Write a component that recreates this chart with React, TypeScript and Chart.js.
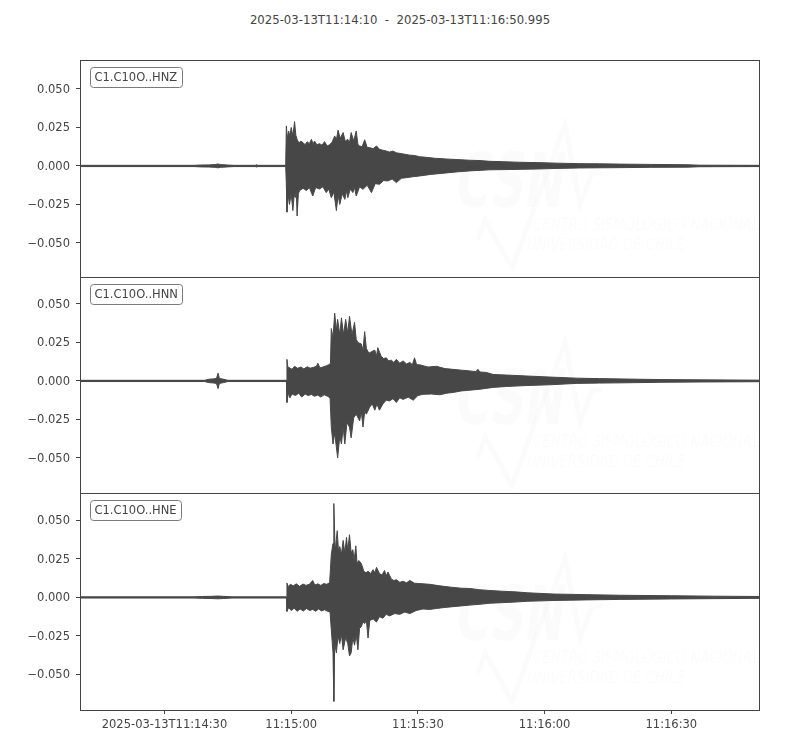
import React, { useEffect, useRef } from "react";
import { Chart, registerables } from "chart.js";

Chart.register(...registerables);

// ---------------- data ----------------
const TITLE = "2025-03-13T11:14:10  -  2025-03-13T11:16:50.995";
const CHANNELS = ["C1.C10O..HNZ", "C1.C10O..HNN", "C1.C10O..HNE"];

// seconds after 2025-03-13T11:14:10
const X_MIN = 0;
const X_MAX = 160.995;
const X_TICKS = [20, 50, 80, 110, 140];
const X_TICK_LABELS = ["2025-03-13T11:14:30", "11:15:00", "11:15:30", "11:16:00", "11:16:30"];

// y range of each panel [min, max]
const Y_RANGES: [number, number][] = [
  [-0.0721, 0.0688],
  [-0.0728, 0.0675],
  [-0.0731, 0.0678],
];
const Y_TICKS = [-0.05, -0.025, 0, 0.025, 0.05];
const Y_TICK_LABELS = ["\u22120.050", "\u22120.025", "0.000", "0.025", "0.050"];

// envelope of each trace: [time (s), amplitude]
const HNZ_UPPER: [number, number][] = [
  [0, 0.0004], [27, 0.0004], [28.5, 0.0006], [30.5, 0.0007], [32.0, 0.0009], [32.6, 0.0013], [33.3, 0.0009],
  [35, 0.0006], [36.5, 0.0004], [41.5, 0.0004], [41.8, 0.0008], [42.1, 0.0004], [48.7, 0.0004],
  [48.85, 0.026], [49.1, 0.018], [49.4, 0.0227], [49.7, 0.019], [50.0, 0.025], [50.4, 0.0195], [50.8, 0.0288],
  [51.1, 0.02], [51.4, 0.0173], [51.8, 0.015], [52.3, 0.016], [52.8, 0.0152], [53.3, 0.0138], [53.8, 0.0158],
  [54.3, 0.0145], [54.8, 0.0173], [55.2, 0.014], [55.5, 0.0162], [56.1, 0.0138], [56.7, 0.0145], [57.3, 0.0135],
  [57.9, 0.0158], [58.5, 0.013], [59.1, 0.0137], [59.7, 0.0155], [60.3, 0.0195], [60.7, 0.017], [61.1, 0.0232],
  [61.6, 0.018], [62.3, 0.0217], [62.8, 0.016], [63.4, 0.0173], [63.8, 0.015], [64.2, 0.0217], [64.8, 0.0162],
  [65.4, 0.0227], [65.8, 0.014], [66.2, 0.013], [66.8, 0.0125], [67.4, 0.017], [68.0, 0.012], [68.6, 0.0119],
  [69.4, 0.0112], [70.2, 0.013], [70.9, 0.0108], [71.7, 0.0102], [72.5, 0.0097], [73.3, 0.009], [74.1, 0.0097],
  [74.9, 0.0085], [75.7, 0.0082], [76.9, 0.0076], [78.1, 0.007], [79.2, 0.0068], [80.4, 0.006], [82, 0.0056],
  [84, 0.005], [86.8, 0.0045], [89, 0.0042], [92.3, 0.0037], [94.7, 0.0035], [97, 0.003], [100, 0.0028],
  [104, 0.0024], [108, 0.0022], [113, 0.0018], [118.3, 0.0015], [123, 0.0014], [127.8, 0.0012], [135, 0.001],
  [143.7, 0.0008], [146.8, 0.0005], [160.995, 0.0004],
];
const HNZ_LOWER: [number, number][] = [
  [0, -0.0004], [27, -0.0004], [28.5, -0.0006], [30.5, -0.0007], [32.0, -0.0009], [32.6, -0.0012], [33.3, -0.0009],
  [35, -0.0006], [36.5, -0.0004], [41.5, -0.0004], [41.8, -0.0007], [42.1, -0.0004], [48.7, -0.0004],
  [48.85, -0.012], [49.0, -0.03], [49.3, -0.019], [49.6, -0.025], [50.0, -0.018], [50.4, -0.029], [50.7, -0.019],
  [51.0, -0.0205], [51.2, -0.016], [51.4, -0.0325], [51.7, -0.018], [52.0, -0.016], [52.8, -0.0145], [53.6, -0.016],
  [54.3, -0.014], [55.1, -0.0195], [55.8, -0.014], [56.7, -0.015], [57.5, -0.0135], [58.3, -0.0173], [58.9, -0.015],
  [59.5, -0.0206], [60.1, -0.017], [60.7, -0.029], [61.1, -0.019], [61.5, -0.025], [62.1, -0.018], [62.7, -0.0217],
  [63.1, -0.016], [63.4, -0.0206], [64.0, -0.015], [64.6, -0.0173], [65.0, -0.014], [65.4, -0.0195], [66.2, -0.0135],
  [67.0, -0.0152], [68.0, -0.0125], [69.0, -0.0173], [69.9, -0.0115], [70.9, -0.0119], [71.9, -0.0095],
  [72.9, -0.0097], [73.9, -0.0085], [74.9, -0.0108], [76.1, -0.008], [77.3, -0.0076], [78.8, -0.007],
  [80.4, -0.0065], [83, -0.0055], [86.8, -0.0045], [89.5, -0.0038], [92.3, -0.0032], [97, -0.0025],
  [102, -0.0023], [108, -0.002], [113, -0.0016], [118.3, -0.0013], [127.8, -0.0011], [135, -0.0009],
  [143.7, -0.0008], [146.8, -0.0005], [160.995, -0.0004],
];

const HNN_UPPER: [number, number][] = [
  [0, 0.0004], [29.5, 0.0004], [30.5, 0.0011], [31.5, 0.0013], [32.3, 0.0016], [32.7, 0.005], [33.0, 0.0016],
  [34, 0.0011], [35, 0.0004], [48.9, 0.0004],
  [49.0, 0.014], [49.2, 0.009], [49.5, 0.0087], [50.2, 0.0075], [50.8, 0.0095], [51.5, 0.0082], [52.3, 0.009],
  [53.0, 0.0078], [53.8, 0.0092], [54.5, 0.0083], [55.3, 0.0088], [56.0, 0.0095], [56.3, 0.0115], [56.8, 0.0085],
  [57.5, 0.009], [58.2, 0.0097], [58.9, 0.0105], [59.3, 0.0115], [59.5, 0.034], [59.9, 0.028], [60.3, 0.044],
  [60.7, 0.033], [61.0, 0.04], [61.5, 0.03], [61.9, 0.041], [62.4, 0.03], [62.9, 0.04], [63.4, 0.031],
  [63.8, 0.042], [64.4, 0.03], [65.0, 0.038], [65.4, 0.027], [65.8, 0.025], [66.6, 0.024], [67.0, 0.02],
  [67.4, 0.032], [67.8, 0.021], [68.4, 0.018], [69.0, 0.019], [69.8, 0.02], [70.2, 0.016], [70.5, 0.0216],
  [71.3, 0.016], [71.9, 0.0145], [72.5, 0.015], [73.1, 0.013], [73.7, 0.0135], [74.3, 0.012], [74.9, 0.014],
  [75.7, 0.0115], [76.5, 0.013], [77.3, 0.011], [78.1, 0.012], [78.7, 0.0105], [79.2, 0.015], [79.7, 0.0105],
  [80.4, 0.0105], [82.4, 0.009], [84.4, 0.0095], [86.4, 0.008], [88.3, 0.0075], [90.3, 0.007], [92.3, 0.0065],
  [93.7, 0.006], [94.2, 0.0075], [94.7, 0.0058], [96.2, 0.0055], [97.8, 0.0042], [101, 0.0038], [105.8, 0.0032],
  [111.3, 0.0025], [117.6, 0.0018], [123, 0.0015], [129.5, 0.0012], [137.3, 0.0009], [146.8, 0.0007],
  [160.995, 0.0005],
];
const HNN_LOWER: [number, number][] = [
  [0, -0.0004], [29.5, -0.0004], [30.5, -0.0011], [31.5, -0.0013], [32.3, -0.0016], [32.7, -0.005], [33.0, -0.0016],
  [34, -0.0011], [35, -0.0004], [48.9, -0.0004],
  [49.0, -0.014], [49.3, -0.008], [49.7, -0.011], [50.2, -0.0085], [51.0, -0.0095], [51.8, -0.008], [52.5, -0.0105],
  [53.3, -0.0085], [54.0, -0.0095], [54.8, -0.0088], [55.5, -0.01], [56.3, -0.0092], [57.0, -0.0105], [57.8, -0.009],
  [58.5, -0.0098], [59.2, -0.011], [59.5, -0.03], [59.9, -0.041], [60.3, -0.034], [60.7, -0.043], [61.0, -0.05],
  [61.5, -0.036], [61.9, -0.041], [62.3, -0.03], [62.7, -0.041], [63.2, -0.027], [63.8, -0.03], [64.2, -0.037],
  [64.8, -0.024], [65.4, -0.0216], [66.2, -0.026], [66.6, -0.02], [67.0, -0.03], [67.4, -0.02], [67.8, -0.0216],
  [68.6, -0.017], [69.2, -0.015], [69.8, -0.019], [70.3, -0.015], [70.9, -0.019], [71.7, -0.015], [72.5, -0.0125],
  [73.3, -0.013], [74.1, -0.0115], [74.9, -0.014], [75.7, -0.011], [76.5, -0.012], [77.7, -0.0105], [78.9, -0.0125],
  [80.0, -0.0095], [81.2, -0.0087], [83.2, -0.0085], [85.2, -0.009], [86.8, -0.008], [88.3, -0.0075],
  [90.3, -0.0065], [92.3, -0.006], [94.7, -0.0054], [97.8, -0.0042], [101, -0.0036], [105.8, -0.003],
  [111.3, -0.0025], [117.6, -0.0016], [123, -0.0014], [129.5, -0.0012], [137.3, -0.0009], [146.8, -0.0007],
  [160.995, -0.0005],
];

const HNE_UPPER: [number, number][] = [
  [0, 0.0004], [27, 0.0004], [29, 0.0006], [31, 0.0007], [32.6, 0.0009], [34, 0.0007], [36, 0.0004], [48.9, 0.0004],
  [49.0, 0.0093], [49.3, 0.007], [49.8, 0.0085], [50.5, 0.0075], [51.2, 0.0088], [52.0, 0.0072], [52.8, 0.0087],
  [53.5, 0.0078], [54.3, 0.0085], [55.1, 0.011], [55.6, 0.008], [56.3, 0.0088], [57.0, 0.0078], [57.7, 0.009],
  [58.4, 0.0085], [59.1, 0.0095], [59.5, 0.028], [59.9, 0.035], [60.1, 0.061], [60.4, 0.03], [60.9, 0.0433],
  [61.2, 0.03], [61.5, 0.033], [61.9, 0.028], [62.3, 0.037], [62.7, 0.029], [63.1, 0.039], [63.4, 0.03],
  [63.8, 0.0407], [64.2, 0.029], [64.6, 0.031], [64.9, 0.024], [65.3, 0.0335], [65.6, 0.022], [66.0, 0.024],
  [66.6, 0.022], [67.2, 0.017], [67.7, 0.016], [68.2, 0.017], [68.8, 0.0155], [69.4, 0.018], [69.8, 0.016],
  [70.2, 0.0195], [70.9, 0.0155], [71.5, 0.0145], [72.1, 0.0175], [72.5, 0.014], [72.9, 0.0165], [73.7, 0.012],
  [74.3, 0.011], [74.9, 0.0115], [75.7, 0.0098], [76.5, 0.0105], [77.3, 0.0095], [78.1, 0.011], [79.2, 0.0092],
  [80.4, 0.009], [82.8, 0.0085], [85.2, 0.0075], [88.3, 0.0065], [90.3, 0.006], [92.3, 0.0058], [94.5, 0.005],
  [97, 0.0045], [100, 0.004], [103, 0.0036], [106, 0.003], [112, 0.0022], [120, 0.0018], [128, 0.0014],
  [140, 0.0011], [150, 0.0008], [160.995, 0.0006],
];
const HNE_LOWER: [number, number][] = [
  [0, -0.0004], [27, -0.0004], [29, -0.0006], [31, -0.0007], [32.6, -0.0009], [34, -0.0007], [36, -0.0004],
  [48.9, -0.0004],
  [49.0, -0.0091], [49.4, -0.0065], [50.0, -0.0085], [50.7, -0.007], [51.4, -0.009], [52.1, -0.0075],
  [52.9, -0.0088], [53.6, -0.0072], [54.4, -0.0085], [55.1, -0.0078], [55.8, -0.009], [56.5, -0.0075],
  [57.2, -0.0088], [57.9, -0.008], [58.6, -0.009], [59.2, -0.0095], [59.5, -0.021], [59.9, -0.036],
  [60.1, -0.0675], [60.3, -0.03], [60.7, -0.036], [61.1, -0.025], [61.5, -0.03], [61.9, -0.024], [62.3, -0.034],
  [62.9, -0.026], [63.4, -0.03], [63.8, -0.038], [64.2, -0.036], [64.6, -0.026], [65.0, -0.031], [65.4, -0.024],
  [65.8, -0.034], [66.2, -0.02], [66.6, -0.019], [67.0, -0.016], [67.4, -0.017], [67.8, -0.015], [68.2, -0.0264],
  [68.6, -0.015], [69.4, -0.014], [70.2, -0.016], [70.9, -0.0125], [71.7, -0.0135], [72.5, -0.011], [73.3, -0.012],
  [74.5, -0.0105], [75.7, -0.011], [76.9, -0.0095], [78.1, -0.0105], [79.6, -0.0085], [81.2, -0.0075],
  [82.8, -0.0078], [84.4, -0.0072], [86.4, -0.0065], [88.3, -0.006], [90.3, -0.0055], [92.3, -0.005],
  [94.5, -0.0045], [97, -0.0038], [100, -0.0034], [103, -0.003], [106, -0.0025], [112, -0.002], [120, -0.0016],
  [128, -0.0013], [140, -0.001], [150, -0.0008], [160.995, -0.0006],
];

// ---------------- styling ----------------
const FONT = "'DejaVu Sans', sans-serif";
const TEXT = "#444444";
const WAVE = "#474747";
const FRAME = "#444444";
const TICK_SIZE = 11.5;

const PANELS = [
  { label: CHANNELS[0], upper: HNZ_UPPER, lower: HNZ_LOWER, yr: Y_RANGES[0], top: 60, bottom: 277, showX: false },
  { label: CHANNELS[1], upper: HNN_UPPER, lower: HNN_LOWER, yr: Y_RANGES[1], top: 277, bottom: 493, showX: false },
  { label: CHANNELS[2], upper: HNE_UPPER, lower: HNE_LOWER, yr: Y_RANGES[2], top: 493, bottom: 710, showX: true },
];

const PAD = 20;
const X_AXIS_H = 40;

function Panel(props: {
  label: string;
  upper: [number, number][];
  lower: [number, number][];
  yr: [number, number];
  top: number;
  bottom: number;
  showX: boolean;
}) {
  const ref = useRef<HTMLCanvasElement | null>(null);
  const { label, upper, lower, yr, top, bottom, showX } = props;
  const canvasTop = top - PAD;
  const height = bottom - top + PAD + (showX ? X_AXIS_H : PAD);

  useEffect(() => {
    if (!ref.current) return;
    const panelPlugin = {
      id: "panelDecor",
      beforeDatasetsDraw(chart: any) {
        const { ctx, chartArea } = chart;
        const ox = chartArea.left;
        const oy = chartArea.top;
        ctx.save();
        ctx.fillStyle = "rgba(0,0,0,0.014)";
        ctx.strokeStyle = "rgba(0,0,0,0.014)";
        // faint watermark
        ctx.save();
        ctx.translate(ox + 373, oy + 147);
        ctx.transform(0.62, 0, -0.15, 1, 0, 0);
        ctx.font = `bold 76px ${FONT}`;
        ctx.fillText("CSN", 0, 0);
        ctx.restore();
        ctx.lineWidth = 5;
        ctx.beginPath();
        const pts = [[398, 180], [405, 160], [432, 208], [485, 65], [500, 145], [512, 113], [522, 113]];
        pts.forEach(([px, py], i) => (i === 0 ? ctx.moveTo(ox + px, oy + py) : ctx.lineTo(ox + px, oy + py)));
        ctx.stroke();
        ctx.save();
        ctx.translate(ox + 452, oy + 170);
        ctx.transform(0.78, 0, -0.15, 1, 0, 0);
        ctx.font = `17px ${FONT}`;
        ctx.fillText("CENTRO SISMOLÓGICO NACIONAL", 0, 0);
        ctx.fillText("UNIVERSIDAD DE CHILE", -4, 20);
        ctx.restore();
        ctx.restore();
      },
      afterDatasetsDraw(chart: any) {
        const { ctx, chartArea } = chart;
        const { left, right, top: t, bottom: b } = chartArea;
        ctx.save();
        // frame
        ctx.strokeStyle = FRAME;
        ctx.lineWidth = 1;
        ctx.beginPath();
        ctx.moveTo(left, t + 0.5);
        ctx.lineTo(right, t + 0.5);
        ctx.moveTo(left, b + 0.5);
        ctx.lineTo(right, b + 0.5);
        ctx.moveTo(left + 0.5, t);
        ctx.lineTo(left + 0.5, b + 1);
        ctx.moveTo(right - 0.5, t);
        ctx.lineTo(right - 0.5, b + 1);
        ctx.stroke();
        // channel label box
        ctx.font = `${TICK_SIZE}px ${FONT}`;
        const tw = ctx.measureText(label).width;
        const bx = left + 10.5;
        const by = t + 7.5;
        const bw = Math.round(tw + 9);
        const bh = 20;
        ctx.beginPath();
        (ctx as any).roundRect(bx, by, bw, bh, 3);
        ctx.fillStyle = "#ffffff";
        ctx.fill();
        ctx.strokeStyle = "#7a7a7a";
        ctx.stroke();
        ctx.fillStyle = TEXT;
        ctx.textBaseline = "middle";
        ctx.textAlign = "left";
        ctx.fillText(label, bx + 4, by + bh / 2 + 0.5);
        ctx.restore();
      },
    };

    // upper half fills slightly past zero and lower half likewise, so no seam shows at 0
    const mk = (pts: [number, number][], target: number) => ({
      data: pts.map(([x, y]) => ({ x, y })),
      fill: { value: target },
      borderColor: WAVE,
      backgroundColor: WAVE,
      borderWidth: 1,
      pointRadius: 0,
      tension: 0,
      borderJoinStyle: "bevel",
    });

    const chart = new Chart(ref.current, {
      type: "line",
      data: { datasets: [mk(upper, -0.0003), mk(lower, 0.0003)] as any },
      options: {
        responsive: false,
        maintainAspectRatio: false,
        animation: false,
        events: [],
        layout: { padding: { top: PAD, bottom: showX ? 0 : PAD, left: 0, right: 40 } },
        plugins: { legend: { display: false }, tooltip: { enabled: false }, title: { display: false } },
        scales: {
          x: {
            type: "linear",
            min: X_MIN,
            max: X_MAX,
            display: showX,
            afterBuildTicks: (s: any) => {
              s.ticks = X_TICKS.map((v) => ({ value: v }));
            },
            afterFit: (s: any) => {
              s.height = showX ? X_AXIS_H : 0;
            },
            ticks: {
              callback: (_v: any, i: number) => X_TICK_LABELS[i],
              font: { family: FONT, size: TICK_SIZE },
              color: TEXT,
              padding: 4,
              maxRotation: 0,
              autoSkip: false,
            },
            grid: { drawOnChartArea: false, drawTicks: true, tickLength: 4, color: FRAME },
            border: { display: false },
          },
          y: {
            type: "linear",
            min: yr[0],
            max: yr[1],
            afterBuildTicks: (s: any) => {
              s.ticks = Y_TICKS.map((v) => ({ value: v }));
            },
            afterFit: (s: any) => {
              s.width = 80;
            },
            ticks: {
              callback: (_v: any, i: number) => Y_TICK_LABELS[i],
              font: { family: FONT, size: TICK_SIZE },
              color: TEXT,
              padding: 6,
              labelOffset: 1,
            },
            grid: { drawOnChartArea: false, drawTicks: true, tickLength: 4, color: FRAME },
            border: { display: false },
          },
        },
      } as any,
      plugins: [panelPlugin],
    });
    return () => chart.destroy();
  }, [label, upper, lower, yr, top, bottom, showX]);

  return (
    <canvas
      ref={ref}
      width={800}
      height={height}
      style={{ position: "absolute", left: 0, top: canvasTop, width: 800, height }}
    />
  );
}

export default function App() {
  return (
    <div
      style={{
        position: "fixed",
        left: 0,
        top: 0,
        width: 800,
        height: 750,
        background: "#ffffff",
        overflow: "hidden",
      }}
    >
      <div
        style={{
          position: "absolute",
          top: 13,
          left: 0,
          width: 800,
          textAlign: "center",
          whiteSpace: "pre",
          font: `11.7px ${FONT}`,
          lineHeight: "14px",
          color: TEXT,
        }}
      >
        {TITLE}
      </div>
      {PANELS.map((p) => (
        <Panel key={p.label} {...p} />
      ))}
    </div>
  );
}
